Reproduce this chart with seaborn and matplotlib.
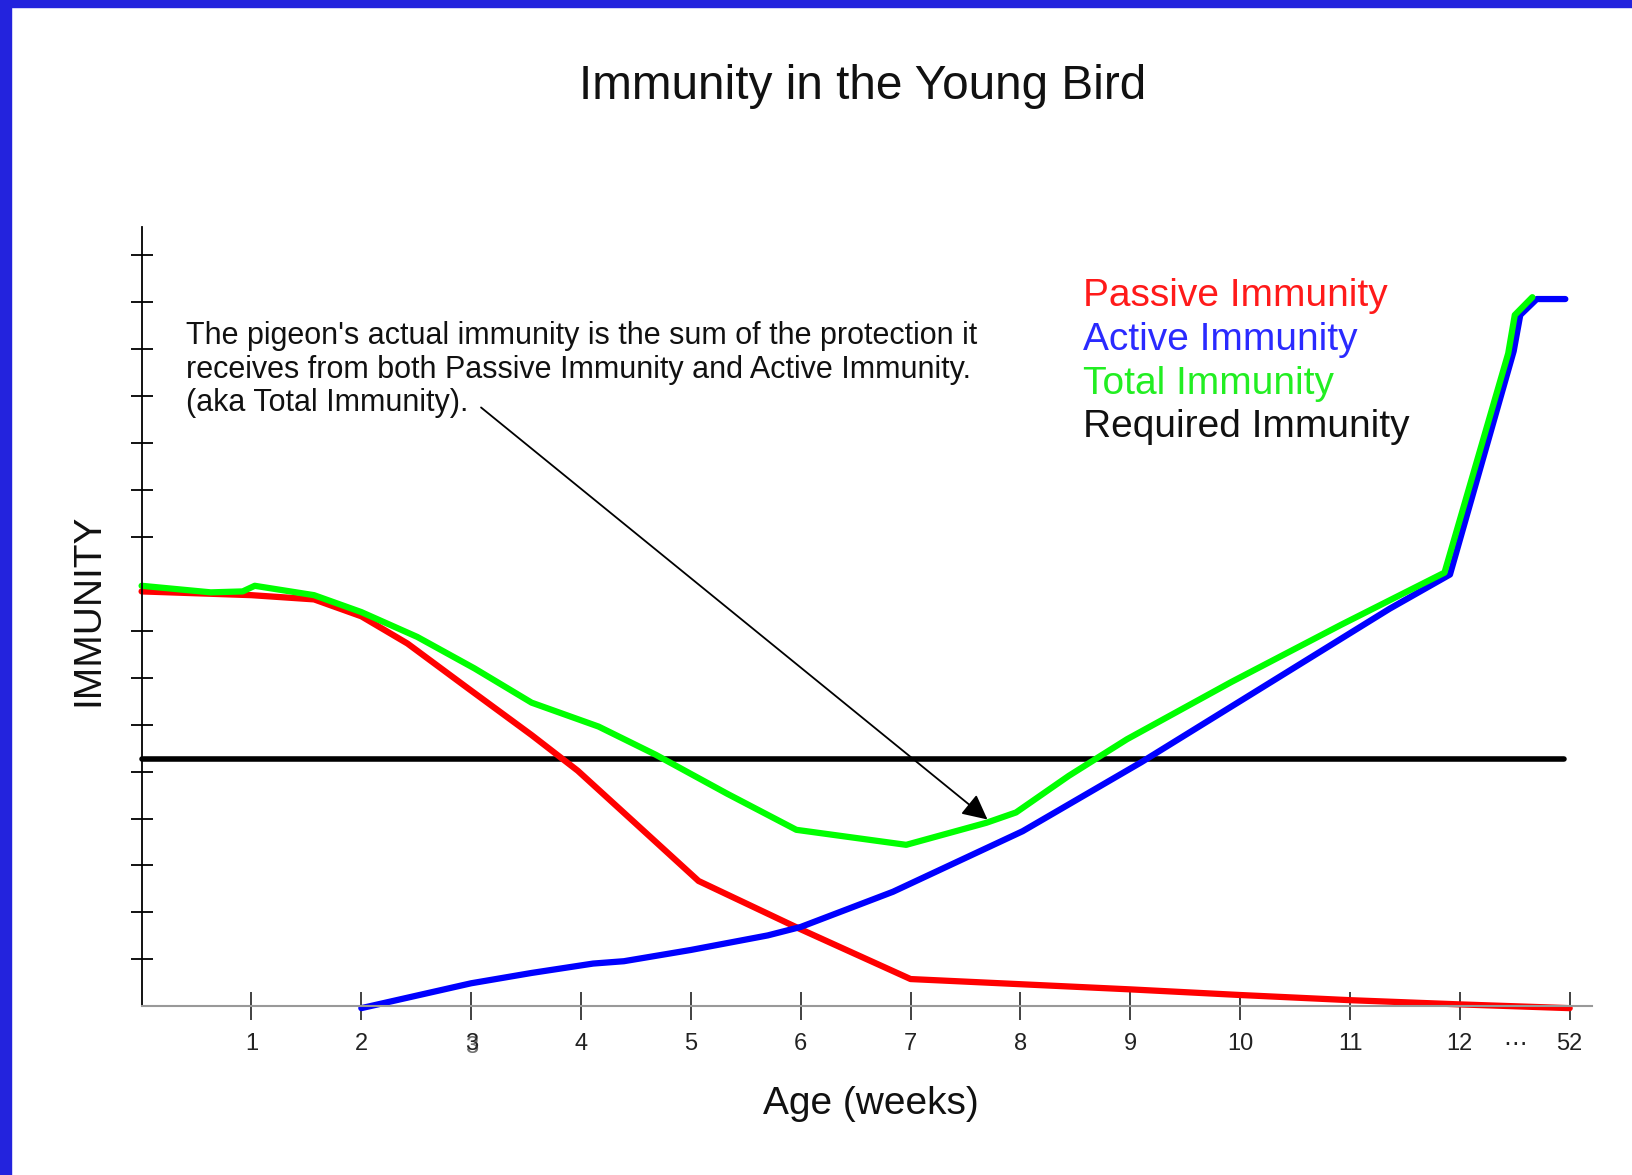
import matplotlib
matplotlib.use("Agg")
import matplotlib.pyplot as plt
from matplotlib.patches import Rectangle
import seaborn as sns
import pandas as pd

# age positions (week 52 is drawn at position 13 after the "..." gap)
passive_x = [0, 1, 1.57, 2, 2.42, 2.98, 3.55, 3.97, 4.49, 5.07, 6, 7, 8, 9, 10, 11, 12, 13]
passive_y = [8.84, 8.76, 8.67, 8.31, 7.73, 6.76, 5.78, 5.02, 3.91, 2.67, 1.64, 0.58, 0.47, 0.36, 0.24, 0.13, 0.04, -0.04]

active_x = [2, 3.0, 3.55, 4.11, 4.39, 5.0, 5.7, 6.0, 6.84, 8.02, 9.1, 10.51, 11.36, 11.91, 12.49, 12.55, 12.7, 12.96]
active_y = [-0.04, 0.49, 0.71, 0.91, 0.96, 1.2, 1.51, 1.69, 2.44, 3.73, 5.2, 7.24, 8.47, 9.2, 13.96, 14.73, 15.07, 15.07]

total_x = [0, 0.63, 0.92, 1.03, 1.57, 2.0, 2.51, 3.03, 3.55, 4.16, 4.68, 5.33, 5.96, 6.96, 7.69, 7.96, 8.44, 8.97, 9.92, 10.92, 11.86, 12.44, 12.5, 12.66]
total_y = [8.96, 8.82, 8.84, 8.96, 8.76, 8.4, 7.87, 7.2, 6.47, 5.96, 5.36, 4.53, 3.76, 3.44, 3.91, 4.13, 4.91, 5.69, 6.91, 8.13, 9.24, 13.91, 14.73, 15.11]

required_x = [0, 12.95]
required_y = [5.27, 5.27]

tick_pos = [1, 2, 3, 4, 5, 6, 7, 8, 9, 10, 11, 12, 13]
tick_labels = ["1", "2", "3", "4", "5", "6", "7", "8", "9", "10", "11", "12", "52"]
y_ticks = [1, 2, 3, 4, 5, 6, 7, 8, 10, 11, 12, 13, 14, 15, 16]

series = ["Passive Immunity", "Active Immunity", "Total Immunity", "Required Immunity"]
colors = ["#ff0000", "#0000ff", "#00ff00", "#000000"]
label_colors = ["#ff1a1a", "#2a2aff", "#22ee22", "#111111"]

sns.set_style("white")
plt.rcParams['font.family'] = ['Liberation Sans', 'DejaVu Sans']

fig = plt.figure(figsize=(16.33, 11.75), dpi=100)
ax = fig.add_axes([0.0867, 0.1436, 0.888, 0.663])

sns.lineplot(x=required_x, y=required_y, ax=ax, color=colors[3], linewidth=4, estimator=None, sort=False, clip_on=False)
sns.lineplot(x=passive_x, y=passive_y, ax=ax, color=colors[0], linewidth=4.5, estimator=None, sort=False, clip_on=False)
sns.lineplot(x=active_x, y=active_y, ax=ax, color=colors[1], linewidth=4.5, estimator=None, sort=False, clip_on=False)
sns.lineplot(x=total_x, y=total_y, ax=ax, color=colors[2], linewidth=4.5, estimator=None, sort=False, clip_on=False)

ax.set_xlim(0, 13.2)
ax.set_ylim(0, 16.6)

for s in ["top", "right"]:
    ax.spines[s].set_visible(False)
ax.spines["left"].set_color("black")
ax.spines["left"].set_linewidth(1.3)
ax.spines["bottom"].set_color("#999999")
ax.spines["bottom"].set_linewidth(1.5)

ax.set_xticks(tick_pos)
ax.set_xticklabels(tick_labels)
ax.set_yticks(y_ticks)
ax.set_yticklabels([])
ax.tick_params(axis="x", bottom=True, direction="inout", length=20, width=1.3, color="#333333",
               labelsize=17, labelcolor="#222222", pad=9)
ax.tick_params(axis="y", left=True, direction="inout", length=16, width=1.3, color="black")

# doubled "3" label and the gap marker before 52
ax.text(3, -0.86, "3", ha="center", va="center", fontsize=17, color="#333333", alpha=0.7)
ax.text(12.5, -0.80, "\u22ef", ha="center", va="center", fontsize=17, color="#222222",
        family=["DejaVu Sans"])

ax.annotate("", xy=(7.70, 3.98), xytext=(3.09, 12.76),
            arrowprops=dict(arrowstyle="-|>", color="black", lw=1.3,
                            mutation_scale=38, shrinkA=0, shrinkB=0))

ax.text(0.4, 14.6,
        "The pigeon's actual immunity is the sum of the protection it\n"
        "receives from both Passive Immunity and Active Immunity.\n"
        "(aka Total Immunity).",
        ha="left", va="top", fontsize=22, color="#111111", linespacing=1.16)

for i, (name, c) in enumerate(zip(series, label_colors)):
    fig.text(0.663, 0.748 - i * 0.0372, name, ha="left", va="center", fontsize=28, color=c)

fig.text(0.528, 0.926, "Immunity in the Young Bird", ha="center", va="center", fontsize=34.4, color="#111111")
fig.text(0.533, 0.060, "Age (weeks)", ha="center", va="center", fontsize=28, color="#111111")
fig.text(0.054, 0.481, "IMMUNITY", ha="center", va="center", rotation=90, fontsize=28, color="#111111")

# blue frame on top and left edges
fig.patches.append(Rectangle((0, 1 - 7 / 1175), 1, 7 / 1175, transform=fig.transFigure,
                             color="#2323dd", zorder=10))
fig.patches.append(Rectangle((0, 0), 11 / 1633, 1, transform=fig.transFigure,
                             color="#2323dd", zorder=10))

fig.savefig("out.png", dpi=100)
